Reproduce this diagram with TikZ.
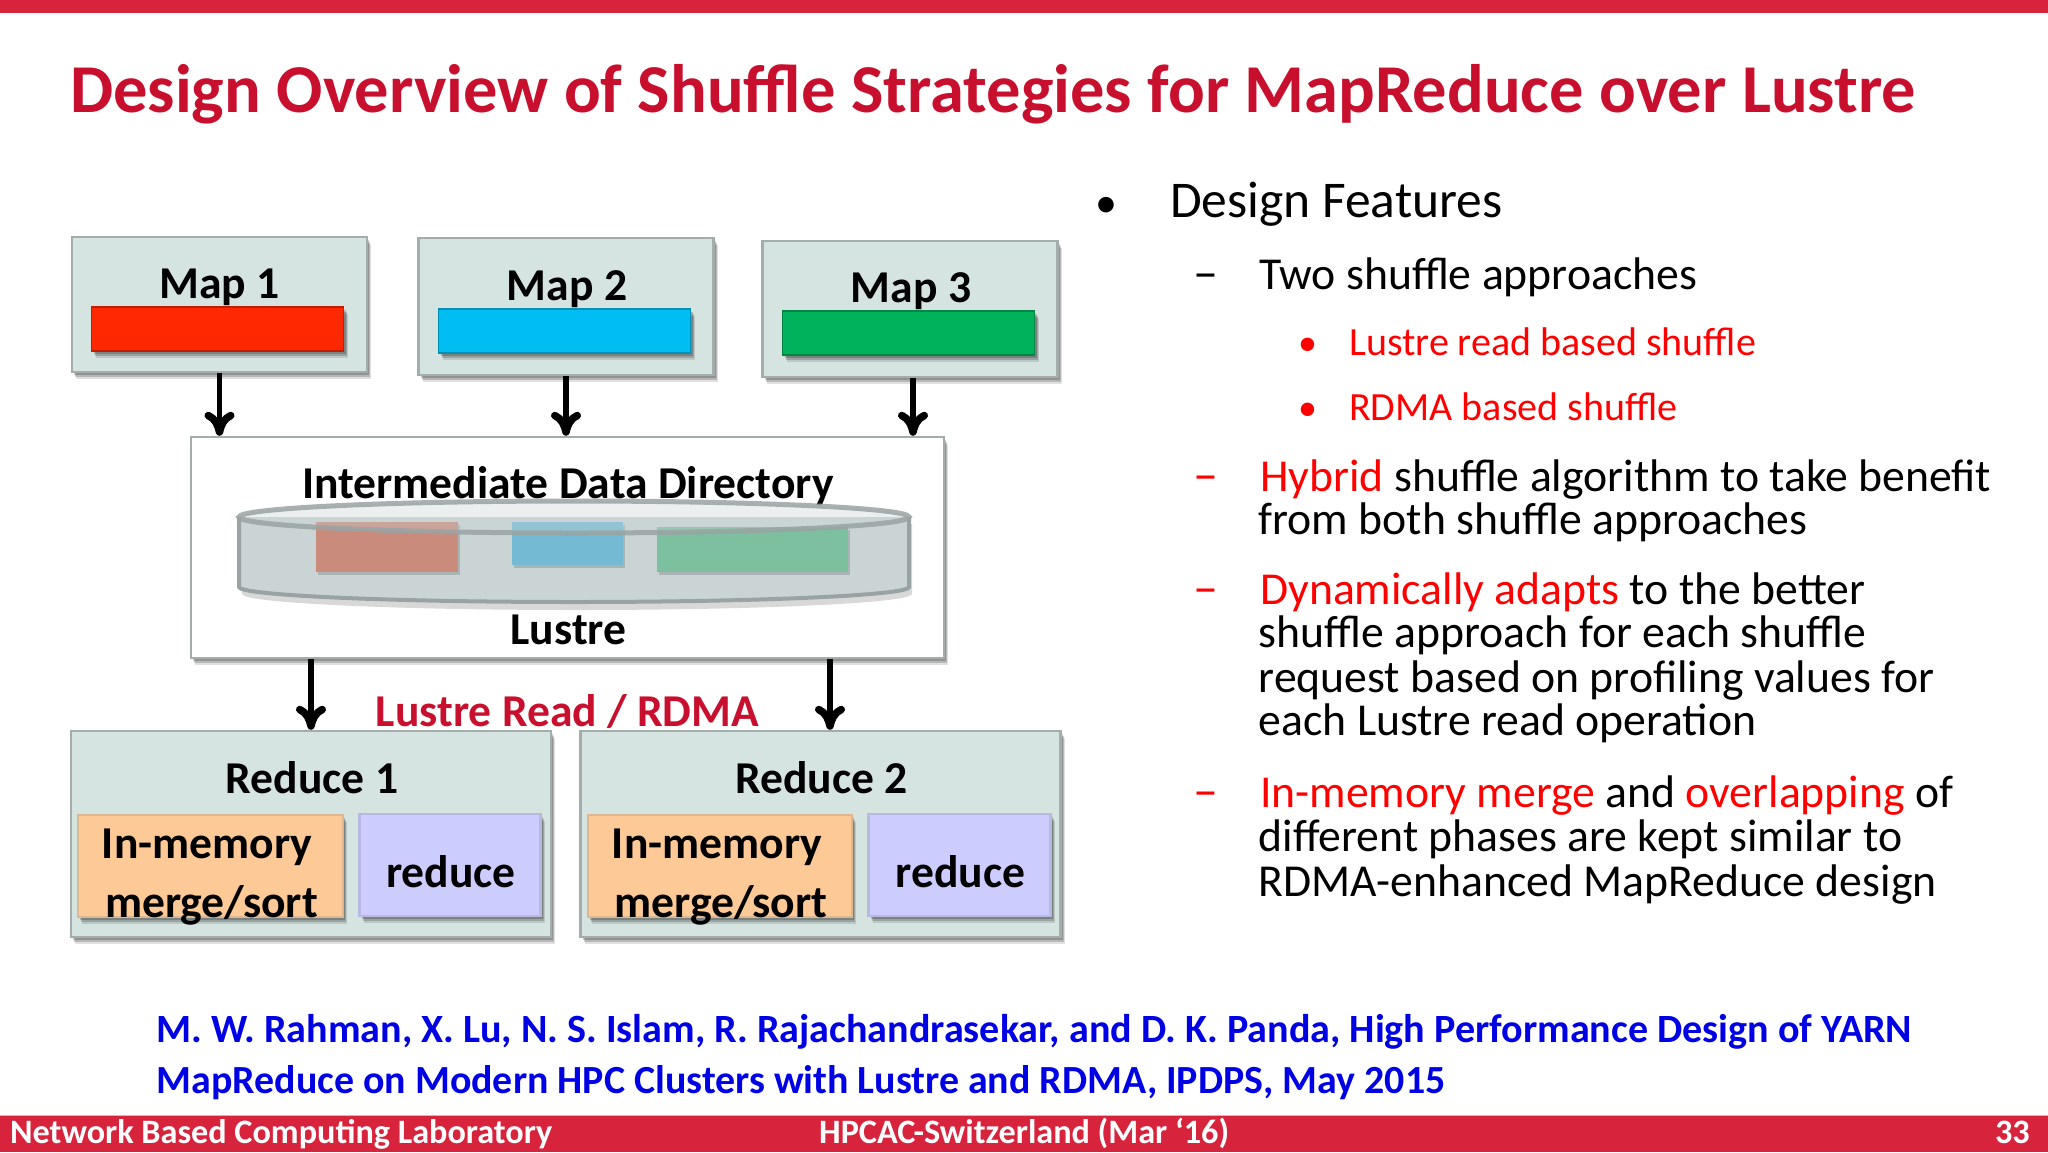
\documentclass[tikz,border=0pt]{standalone}
\usepackage{fontspec}
\setmainfont{Carlito}
\usepackage{xcolor}
\usetikzlibrary{calc, shadows, arrows.meta}
\definecolor{barred}{HTML}{D7233C}
\definecolor{titlered}{HTML}{C8102E}
\definecolor{boxgreen}{HTML}{D5E3E1}
\definecolor{boxedge}{HTML}{A3AEAC}
\definecolor{diskfill}{HTML}{CAD4D4}
\definecolor{diskedge}{HTML}{99A3A3}
\definecolor{barone}{HTML}{FF2800}
\definecolor{bartwo}{HTML}{00BEF2}
\definecolor{barthree}{HTML}{00B25C}
\definecolor{memfill}{HTML}{FDC997}
\definecolor{rdcfill}{HTML}{CCCCFF}
\definecolor{ghostone}{HTML}{C98B7C}
\definecolor{ghosttwo}{HTML}{75BAD3}
\definecolor{ghostthree}{HTML}{7CC0A0}
\newcommand{\fsize}[1]{\fontsize{#1}{#1}\selectfont}
\tikzstyle{arrow}    = [line width=5.5pt,-{Computer Modern Rightarrow[length=24pt,width=30pt,line width=7.5pt]}]

\begin{document}
\begin{tikzpicture}[
    x=1pt, y=-1pt,
    softshadow/.style={
      drop shadow={shadow xshift=4pt,shadow yshift=-7pt,opacity=.12,fill=black},
      drop shadow={shadow xshift=3pt,shadow yshift=-5pt,opacity=.18,fill=black},
      drop shadow={shadow xshift=2pt,shadow yshift=-3pt,opacity=.2,fill=black}},
    box/.style={draw=boxedge,line width=2.5pt,fill=#1,inner sep=0pt,softshadow},
    box/.default=boxgreen,
    bar/.style={draw=#1!75!black,line width=1.5pt,fill=#1,inner sep=0pt,
      minimum width=252,minimum height=44,softshadow},
    inbox/.style={draw=#1!75!gray,line width=2.5pt,fill=#1,inner sep=0pt,
      minimum height=102,softshadow},
    ghost/.style={fill=#1,inner sep=0pt,
      drop shadow={shadow xshift=2pt,shadow yshift=-3pt,opacity=.15,fill=black}},
    diagtext/.style={anchor=base,font=\fsize{45.6}\bfseries,inner sep=0pt},
    bodytext/.style={anchor=base west,font=\fsize{51.5},inner sep=0pt},
    subtext/.style={anchor=base west,font=\fsize{40},text=red,inner sep=0pt},
    listtext/.style={anchor=base west,font=\fsize{45.7},inner sep=0pt},
    listdash/.style={anchor=base,font=\fsize{50},inner sep=0pt},
    foottext/.style={font=\fsize{34.2}\bfseries,text=white,inner sep=0pt},
    reftext/.style={anchor=base west,font=\fsize{40.1}\bfseries,text=blue!90!black,inner sep=0pt},
  ]
  \useasboundingbox (0,0) rectangle (2048,1152);
  \fill[white] (0,0) rectangle (2048,1152);
  % top and bottom bands
  \fill[barred] (0,0) rectangle (2048,13);
  \fill[barred] (0,1116) rectangle (2048,1152);
  \draw[black!25,line width=1pt] (0,1115.5) -- (2048,1115.5);

  \node[anchor=base west,font=\fsize{68.5}\bfseries,text=titlered,inner sep=0pt] (title) at (70,112.5)
    {Design Overview of Shuffle Strategies for MapReduce over Lustre};

  % map boxes
  \node[box,minimum width=295,minimum height=135] (map1) at (219.5,304.5) {};
  \node[box,minimum width=295,minimum height=137] (map2) at (566,306.5) {};
  \node[box,minimum width=295,minimum height=136] (map3) at (910,309) {};
  \node[bar=barone] (bar1) at (217.7,329) {};
  \node[bar=bartwo] (bar2) at (564.5,331) {};
  \node[bar=barthree] (bar3) at (908.5,333) {};
  \node[diagtext] (map1txt) at (219.5,298) {Map 1};
  \node[diagtext] (map2txt) at (567,300) {Map 2};
  \node[diagtext] (map3txt) at (911,302) {Map 3};

  % directory box with the disk
  \node[box=white,minimum width=753,minimum height=221] (dir) at (567.5,547.5) {};
  \node[diagtext] (dirtxt) at (568,498) {Intermediate Data Directory};
  \node[diagtext] (lustretxt) at (568.5,644) {Lustre};
  \fill[black!30,opacity=.5] (242,524) -- (242,594) arc[start angle=180,end angle=0,x radius=335,y radius=16] -- (912,524) -- cycle;
  \draw[diskedge,fill=diskfill,line width=4pt] (239,517) -- (239,587)
    arc[start angle=180,end angle=0,x radius=335,y radius=15] -- (909,517);
  \node[ghost=ghostone,minimum width=142,minimum height=50] (red1) at (387,547) {};
  \node[ghost=ghosttwo,minimum width=111,minimum height=43] (blue1) at (567.5,543.5) {};
  \node[ghost=ghostthree,minimum width=191,minimum height=45] (green1) at (752,549.5) {};
  \draw[diskedge,fill=diskfill,fill opacity=.35,draw opacity=.85,line width=5pt] (574,517) ellipse [x radius=335, y radius=16];

  % reduce boxes
  \node[box,minimum width=480,minimum height=206] (red1box) at (311,834) {};
  \node[box,minimum width=480,minimum height=206] (red2box) at (820.5,834) {};
  \node[inbox=memfill,minimum width=265] (mem1) at (210.5,866) {};
  \node[inbox=rdcfill,minimum width=181] (rdc1) at (450,865) {};
  \node[inbox=memfill,minimum width=264] (mem2) at (720,866) {};
  \node[inbox=rdcfill,minimum width=182] (rdc2) at (959.5,865) {};
  \node[diagtext] (red1txt) at (312,793) {Reduce 1};
  \node[diagtext] (red2txt) at (821.5,793) {Reduce 2};
  \node[diagtext] (mem1a) at (207,858) {In-memory};
  \node[diagtext] (mem1b) at (211.6,917) {merge/sort};
  \node[diagtext] (mem2a) at (717,858) {In-memory};
  \node[diagtext] (mem2b) at (721,917) {merge/sort};
  \node[diagtext] (rdc1txt) at (451,887) {reduce};
  \node[diagtext] (rdc2txt) at (960.5,887) {reduce};
  \node[diagtext,text=titlered] (modetxt) at (567.5,726) {Lustre Read / RDMA};

  % arrows
  \coordinate (dirin3) at (913,378);
  \coordinate (dirout2) at (830,659);
  \draw[arrow] (map1.south) -- (map1.south |- dir.north);
  \draw[arrow] (map2.south) -- (map2.south |- dir.north);
  \draw[arrow] (dirin3) -- (dirin3 |- dir.north);
  \draw[arrow] (red1box.north |- dir.south) -- (red1box.north);
  \draw[arrow] (dirout2) -- (dirout2 |- red2box.north);

  % feature list
  \node[anchor=base,font=\fsize{44}] (b0) at (1106.5,217.5) {•};
  \node[bodytext] (t0) at (1170,217.5) {Design Features};
  \node[listdash] (d1) at (1206,289) {–};
  \node[listtext] (t1) at (1259,289) {Two shuffle approaches};
  \node[anchor=base,font=\fsize{38},text=red] (b2) at (1307.5,355) {•};
  \node[subtext] (t2) at (1349,355) {Lustre read based shuffle};
  \node[anchor=base,font=\fsize{38},text=red] (b3) at (1307.5,420) {•};
  \node[subtext] (t3) at (1349,420) {RDMA based shuffle};
  \node[listdash,text=red] (d4) at (1206,491) {–};
  \node[listtext] (t4) at (1260,491) {\textcolor{red}{Hybrid} shuffle algorithm to take benefit};
  \node[listtext] (t4b) at (1258.5,534) {from both shuffle approaches};
  \node[listdash,text=red] (d5) at (1206,604) {–};
  \node[listtext] (t5) at (1260,604) {\textcolor{red}{Dynamically adapts} to the better};
  \node[listtext] (t5b) at (1258.5,647) {shuffle approach for each shuffle};
  \node[listtext] (t5c) at (1258.5,692) {request based on profiling values for};
  \node[listtext] (t5d) at (1258.5,735) {each Lustre read operation};
  \node[listdash,text=red] (d6) at (1206,807) {–};
  \node[listtext] (t6) at (1260,807) {\textcolor{red}{In-memory merge} and \textcolor{red}{overlapping} of};
  \node[listtext] (t6b) at (1258.5,851) {different phases are kept similar to};
  \node[listtext] (t6c) at (1258.5,896) {RDMA-enhanced MapReduce design};

  % reference and footer
  \node[reftext] (ref1) at (156.5,1042) {M. W. Rahman, X. Lu, N. S. Islam, R. Rajachandrasekar, and D. K. Panda, High Performance Design of YARN};
  \node[reftext,font=\fsize{39.9}\bfseries] (ref2) at (156.5,1093) {MapReduce on Modern HPC Clusters with Lustre and RDMA, IPDPS, May 2015};
  \node[foottext,anchor=base west] (lab) at (10,1143) {Network Based Computing Laboratory};
  \node[foottext,anchor=base west] (conf) at (819,1143) {HPCAC-Switzerland (Mar ‘16)};
  \node[foottext,anchor=base east] (pagenum) at (2030,1143) {33};
\end{tikzpicture}
\end{document}
